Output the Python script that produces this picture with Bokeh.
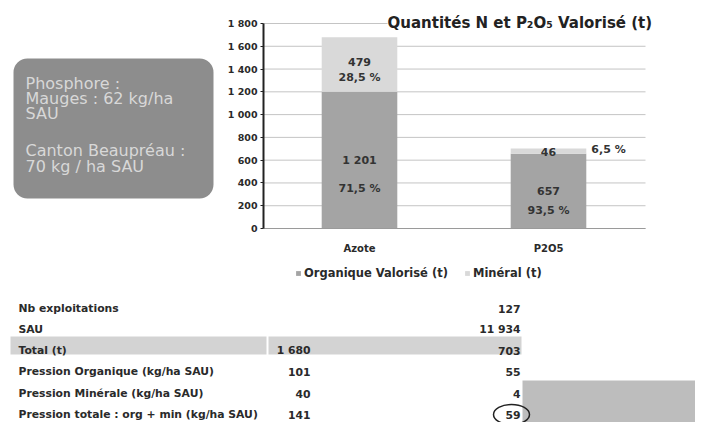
from bokeh.plotting import figure
from bokeh.models import (Range1d, FixedTicker, ColumnDataSource, Label, LinearAxis,
                          BoxAnnotation, Legend, LegendItem)
from bokeh.layouts import column, row
from bokeh.embed import file_html
from bokeh.resources import INLINE
from bokeh.core.properties import value

# ---------------- data ----------------
categories = ["Azote", "P2O5"]
organique = [1201, 657]
mineral = [479, 46]
organique_pct = ["71,5 %", "93,5 %"]
mineral_pct = ["28,5 %", "6,5 %"]
y_ticks = [0, 200, 400, 600, 800, 1000, 1200, 1400, 1600, 1800]
y_tick_labels = ["0", "200", "400", "600", "800", "1 000", "1 200", "1 400", "1 600", "1 800"]
series_names = ["Organique Valorisé (t)", "Minéral (t)"]
title_text = "Quantités N et P\u2082O\u2085 Valorisé (t)"

box_lines = ["Phosphore :", "Mauges : 62 kg/ha", "SAU", "Canton Beaupréau :", "70 kg / ha SAU"]

table_labels = ["Nb exploitations", "SAU", "Total (t)", "Pression Organique (kg/ha SAU)",
                "Pression Minérale (kg/ha SAU)", "Pression totale : org + min (kg/ha SAU)"]
table_azote = ["", "", "1 680", "101", "40", "141"]
table_p2o5 = ["127", "11 934", "703", "55", "4", "59"]

FONT = "DejaVu Sans"
ORG_COLOR = "#a4a4a4"
MIN_COLOR = "#d9d9d9"
TXT = "#2a2a2a"

# ---------------- left box ----------------
left = figure(width=223, height=282, x_range=Range1d(0, 223), y_range=Range1d(282, 0),
              x_axis_type=None, y_axis_type=None, min_border=0,
              output_backend="svg", toolbar_location=None)
left.grid.visible = False
left.outline_line_color = None
left.add_layout(BoxAnnotation(left=13, right=213, top=58, bottom=198, fill_color="#8d8d8d",
                              fill_alpha=1, line_color=None, border_radius=14, level="underlay"))
box_y = [83, 98, 113, 150, 166]
left.text(x=[25] * len(box_lines), y=box_y, text=box_lines, text_font=value(FONT),
          text_font_size="16px", text_color="#d8d8d8", text_baseline="middle", text_align="left")

# ---------------- chart ----------------
# pixel geometry of the plotting area inside the chart figure (canvas 472 x 282)
FIG_W, FIG_H, BORDER_L = 472, 282, 40
Y_TOP_PX, Y_ZERO_PX = 23, 228          # where 1800 and 0 fall
PX_PER_CAT = 189.0                     # distance between category centres
FIRST_CENTER_PX = 96.0                 # first category centre from frame left
AXIS_LEN_PX = 382.0                    # visible length of the category axis

y_max = y_ticks[-1]
ppu = (Y_ZERO_PX - Y_TOP_PX) / y_max
y_lo = -(FIG_H - Y_ZERO_PX) / ppu
y_hi = y_max + Y_TOP_PX / ppu
x_lo = 0.5 - FIRST_CENTER_PX / PX_PER_CAT
x_hi = x_lo + (FIG_W - BORDER_L) / PX_PER_CAT
x_axis_end = x_lo + AXIS_LEN_PX / PX_PER_CAT

xs = [i + 0.5 for i in range(len(categories))]
src = ColumnDataSource(dict(x=xs, cat=categories, organique=organique, mineral=mineral))

p = figure(x_range=Range1d(x_lo, x_hi), y_range=Range1d(y_lo, y_hi), x_axis_type=None,
           width=FIG_W, height=FIG_H, min_border_left=BORDER_L, min_border_right=0,
           min_border_top=0, min_border_bottom=0,
           output_backend="svg", toolbar_location=None)
p.outline_line_color = None
p.grid.visible = False

# horizontal grid lines, limited to the plot width
p.segment(x0=x_lo, x1=x_axis_end, y0=y_ticks, y1=y_ticks, line_color="#c4c4c4", line_width=1)

rs = p.vbar_stack(["organique", "mineral"], x="x", width=0.4, color=[ORG_COLOR, MIN_COLOR],
                  line_color=None, source=src)

p.yaxis.ticker = FixedTicker(ticks=y_ticks)
p.yaxis.bounds = (0, y_max)
p.yaxis.major_label_overrides = {t: l for t, l in zip(y_ticks, y_tick_labels)}
p.yaxis.axis_line_width = 2
p.yaxis.axis_line_color = "#222222"
p.yaxis.major_tick_line_color = "#222222"
p.yaxis.major_tick_in = 0
p.yaxis.major_tick_out = 3
p.yaxis.minor_tick_line_color = None
p.yaxis.major_label_text_font = FONT
p.yaxis.major_label_text_font_size = "9.5px"
p.yaxis.major_label_text_font_style = "bold"
p.yaxis.major_label_text_color = TXT
p.yaxis.major_label_standoff = 3

xaxis = LinearAxis(fixed_location=0, ticker=FixedTicker(ticks=xs),
                   major_label_overrides={x: c for x, c in zip(xs, categories)},
                   bounds=(x_lo, x_axis_end),
                   axis_line_color="#9a9a9a", major_tick_line_color=None,
                   minor_tick_line_color=None, major_label_text_font=FONT,
                   major_label_text_font_size="10px", major_label_text_font_style="bold",
                   major_label_text_color=TXT, major_label_standoff=8)
p.add_layout(xaxis, "below")

# value labels, positioned from the data
lab_x, lab_y, lab_text, lab_dx, lab_dy = [], [], [], [], []
org_off = [((0, 0), (0, 28)), ((0, 0), (0, 19))]
min_off = [((0, -2), (0, 13)), ((0, 1), (60, -2))]
for i in range(len(categories)):
    o, m = organique[i], mineral[i]
    for (dx, dy), t in zip(org_off[i], ["{:,}".format(o).replace(",", " "), organique_pct[i]]):
        lab_x.append(xs[i]); lab_y.append(o / 2); lab_text.append(t); lab_dx.append(dx); lab_dy.append(dy)
    for (dx, dy), t in zip(min_off[i], ["{:,}".format(m).replace(",", " "), mineral_pct[i]]):
        lab_x.append(xs[i]); lab_y.append(o + m / 2); lab_text.append(t); lab_dx.append(dx); lab_dy.append(dy)
lsrc = ColumnDataSource(dict(x=lab_x, y=lab_y, text=lab_text, dx=lab_dx, dy=lab_dy))
p.text(x="x", y="y", text="text", x_offset="dx", y_offset="dy", source=lsrc,
       text_font=value(FONT), text_font_size="11px", text_font_style="bold",
       text_color="#333333", text_align="center", text_baseline="middle")

legend = Legend(items=[LegendItem(label=series_names[0], renderers=[rs[0]]),
                       LegendItem(label=series_names[1], renderers=[rs[1]])],
                orientation="horizontal", location=(32, 2),
                glyph_width=6, glyph_height=6, label_height=14, label_standoff=3, spacing=16,
                label_text_font=FONT, label_text_font_size="11.5px",
                label_text_font_style="bold", label_text_color=TXT,
                border_line_color=None, background_fill_alpha=0, padding=0, margin=0)
p.add_layout(legend, "center")

p.add_layout(Label(x=124, y=FIG_H - 22, x_units="screen", y_units="screen", text=title_text,
                   text_font=FONT, text_font_size="15px", text_font_style="bold",
                   text_color="#222222", text_baseline="middle",
                   background_fill_color="white", background_fill_alpha=1))

# ---------------- table ----------------
tb = figure(width=695, height=140, x_range=Range1d(0, 695), y_range=Range1d(422, 282),
            x_axis_type=None, y_axis_type=None, min_border=0,
            output_backend="svg", toolbar_location=None)
tb.grid.visible = False
tb.outline_line_color = None
row_y = [308, 329, 350, 371, 393, 414]
tb.quad(left=[10, 268], right=[266, 521], top=[336, 336], bottom=[354, 354],
        color="#d3d3d3", line_color=None)
tb.quad(left=522, right=695, top=380, bottom=422, color="#bdbdbd", line_color=None)
tsrc = ColumnDataSource(dict(y=row_y, lab=table_labels, az=table_azote, p2=table_p2o5))
common = dict(source=tsrc, text_font=value(FONT), text_font_size="10.8px", text_font_style="bold",
              text_color=TXT, text_baseline="middle")
tb.text(x=18, y="y", text="lab", text_align="left", **common)
tb.text(x=310, y="y", text="az", text_align="right", **common)
tb.text(x=520, y="y", text="p2", text_align="right", **common)
tb.ellipse(x=511, y=row_y[5], width=36, height=20, fill_color=None, line_color="#222222",
           line_width=1.5)

layout = column(row(left, p), tb)
open("out.html", "w").write(file_html(layout, INLINE))
